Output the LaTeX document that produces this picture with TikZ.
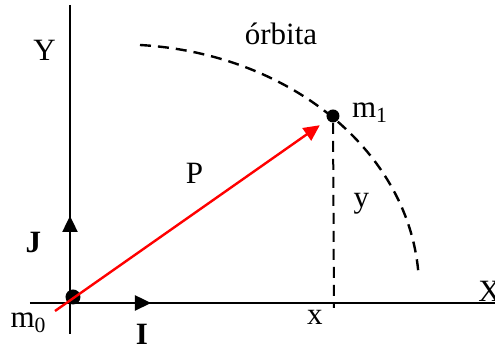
\documentclass[tikz,border=0pt]{standalone}
\usepackage{fontspec}
\setmainfont{Liberation Serif}
\usetikzlibrary{arrows.meta,positioning}

\begin{document}
\begin{tikzpicture}[
    x=0.5pt, y=-0.5pt,
    axis/.style={draw=black, line width=1pt},
    vec/.style={-{Triangle[length=8pt,width=7.5pt]}, line width=1.2pt},
    guide/.style={draw=black, line width=1.2pt, dash pattern=on 5.5pt off 3.5pt},
    lbl/.style={inner sep=0pt, anchor=base, font=\fontsize{15.5}{18}\selectfont},
    mass/.style={circle, fill=black, inner sep=0pt, minimum size=#1}
]
    \useasboundingbox (0,0) rectangle (495,351);

    % axes
    \coordinate (O) at (70,303);
    \coordinate (ytop) at (70,5);
    \coordinate (ybot) at (70,334);
    \coordinate (xleft) at (30,303);
    \coordinate (xright) at (497,303);
    \draw [axis] (ytop) -- (ybot);
    \draw [axis] (xleft) -- (xright);

    % unit vectors
    \coordinate (jtip) at (70,216);
    \coordinate (itip) at (151,303);
    \draw [vec] (O) -- (jtip);
    \draw [vec] (O) -- (itip);

    % masses
    \node [mass=7.5pt] (m0) at (73,297) {};
    \node [mass=6.5pt] (m1) at (333,116) {};

    % orbit
    \coordinate (orbstart) at (140,45);
    \draw [guide] (orbstart) arc[start angle=-86, end angle=-3, x radius=300, y radius=245];

    % position vector
    \coordinate (rtail) at (55,311);
    \draw [vec, red, shorten >=4.6pt] (rtail) -- (m1);

    % projection
    \coordinate (foot) at (334,308);
    \draw [guide, line width=1pt] (m1) -- (foot);

    % labels
    \node [lbl] (ylab) at (44.5,61) {Y};
    \node [lbl, anchor=base west] (xlab) at (478,302) {X};
    \node [lbl] (jlab) at (33.5,253) {\textbf{J}};
    \node [lbl] (ilab) at (142,345) {\textbf{I}};
    \node [lbl] (m0lab) at (28.5,328) {m\textsubscript{0}};
    \node [lbl] (m1lab) at (370,118) {m\textsubscript{1}};
    \node [lbl] (plab) at (194.5,184) {P};
    \node [lbl] (ycomp) at (361.5,208) {y};
    \node [lbl] (xcomp) at (315,325) {x};
    \node [lbl] (orblab) at (281,45) {órbita};
\end{tikzpicture}
\end{document}
